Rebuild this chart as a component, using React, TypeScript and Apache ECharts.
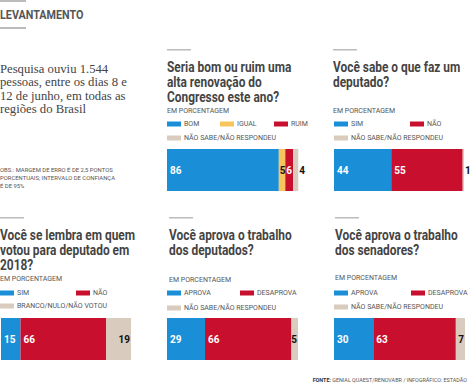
import React, { useEffect, useRef } from "react";
import * as echarts from "echarts";

const headerText = "LEVANTAMENTO";
const introText = "Pesquisa ouviu 1.544\npessoas, entre os dias 8 e\n12 de junho, em todas as\nregiões do Brasil";
const obsText = "OBS.: MARGEM DE ERRO É DE 2,5 PONTOS\nPORCENTUAIS; INTERVALO DE CONFIANÇA\nÉ DE 95%";
const unitText = "EM PORCENTAGEM";
const sourceBold = "FONTE:";
const sourceText = " GENIAL QUAEST/RENOVABR / INFOGRÁFICO: ESTADÃO";

const titles = [
  "Seria bom ou ruim uma\nalta renovação do\nCongresso este ano?",
  "Você sabe o que faz um\ndeputado?",
  "Você se lembra em quem\nvotou para deputado em\n2018?",
  "Você aprova o trabalho\ndos deputados?",
  "Você aprova o trabalho\ndos senadores?",
];

const cats1 = ["BOM", "IGUAL", "RUIM", "NÃO SABE/NÃO RESPONDEU"];
const vals1 = [86, 5, 6, 4];
const cats2 = ["SIM", "NÃO", "NÃO SABE/NÃO RESPONDEU"];
const vals2 = [44, 55, 1];
const cats3 = ["SIM", "NÃO", "BRANCO/NULO/NÃO VOTOU"];
const vals3 = [15, 66, 19];
const cats4 = ["APROVA", "DESAPROVA", "NÃO SABE/NÃO RESPONDEU"];
const vals4 = [29, 66, 5];
const cats5 = ["APROVA", "DESAPROVA", "NÃO SABE/NÃO RESPONDEU"];
const vals5 = [30, 63, 7];

const BLUE = "#1a8fd8";
const YELLOW = "#f8c55c";
const RED = "#c8102e";
const BEIGE = "#d9cbbd";

const colors1 = [BLUE, YELLOW, RED, BEIGE];
const colors3 = [BLUE, RED, BEIGE];

const panels = [
  { cats: cats1, vals: vals1, colors: colors1, x: 167, lineX: 167, lineY: 49, titleTop: 59.5, subTop: 107, leg: [[167, 124], [220, 124], [274, 124], [167, 138]], barLeft: 167, barTop: 149, barW: 130 },
  { cats: cats2, vals: vals2, colors: colors3, x: 333, lineX: 333, lineY: 49, titleTop: 59.5, subTop: 107, leg: [[334, 124], [410, 124], [334, 138]], barLeft: 334, barTop: 149, barW: 130 },
  { cats: cats3, vals: vals3, colors: colors3, x: 0, lineX: 0, lineY: 217, titleTop: 227.5, subTop: 275, leg: [[0, 293], [76, 293], [0, 306]], barLeft: 1, barTop: 318, barW: 130 },
  { cats: cats4, vals: vals4, colors: colors3, x: 169, lineX: 169, lineY: 217, titleTop: 227.5, subTop: 276, leg: [[167, 293], [240, 293], [167, 308]], barLeft: 167, barTop: 318, barW: 131 },
  { cats: cats5, vals: vals5, colors: colors3, x: 335, lineX: 335, lineY: 217, titleTop: 227.5, subTop: 274, leg: [[334, 293], [411, 293], [334, 307]], barLeft: 334, barTop: 318, barW: 131 },
];

const SANS = "Roboto, 'DejaVu Sans', sans-serif";

export default function App() {
  const ref = useRef<HTMLDivElement>(null);
  useEffect(() => {
    if (!ref.current) return;
    const chart = echarts.init(ref.current, undefined, { renderer: "svg" });

    const title: any[] = [
      {
        text: introText, left: 0, top: 62,
        textStyle: { fontFamily: "'Liberation Serif', 'DejaVu Serif', serif", fontWeight: "normal", fontSize: 12.7, color: "#444", lineHeight: 13.5 },
        padding: 0,
      },
      {
        text: obsText, left: 0, top: 166,
        textStyle: { fontFamily: SANS, fontWeight: "normal", fontSize: 5.9, color: "#555", lineHeight: 8 },
        padding: 0,
      },
      {
        text: `{b|${sourceBold}}{n|${sourceText}}`, right: 7, top: 377,
        textStyle: {
          rich: {
            b: { fontFamily: SANS, fontWeight: "bold", fontSize: 5.4, color: "#333" },
            n: { fontFamily: SANS, fontWeight: "normal", fontSize: 5.4, color: "#555" },
          },
        },
        padding: 0,
      },
    ];
    const legend: any[] = [];
    const grid: any[] = [];
    const xAxis: any[] = [];
    const yAxis: any[] = [];
    const series: any[] = [];
    const graphicEls: any[] = [
      { type: "rect", shape: { x: 0, y: 0, width: 26, height: 2 }, style: { fill: "#bbb" } },
      { type: "rect", shape: { x: 0, y: 27, width: 26, height: 2 }, style: { fill: "#bbb" } },
      {
        type: "text", x: 0, y: 8.5, scaleX: 0.83,
        style: { text: headerText, fontFamily: "Roboto", fontWeight: "bold", fontSize: 13, fill: "#555", verticalAlign: "top" },
      },
    ];

    panels.forEach((p, i) => {
      graphicEls.push({ type: "rect", shape: { x: p.lineX, y: p.lineY, width: 24, height: 1.5 }, style: { fill: "#bbb" } });
      graphicEls.push({
        type: "text", x: p.x, y: p.titleTop, scaleX: 0.85,
        style: { text: titles[i], fontFamily: "Roboto", fontWeight: "bold", fontSize: 14, lineHeight: 15, fill: "#444", verticalAlign: "top" },
      });
      title.push({
        text: unitText, left: p.x, top: p.subTop, padding: 0,
        textStyle: { fontFamily: SANS, fontWeight: "normal", fontSize: 7, color: "#555", lineHeight: 8 },
      });
      p.cats.forEach((c, j) => {
        legend.push({
          data: [c], left: p.leg[j][0], top: p.leg[j][1] - 4.5, padding: 0, itemGap: 0,
          itemWidth: 14, itemHeight: 5, icon: "rect", selectedMode: false,
          textStyle: { fontFamily: SANS, fontSize: 7, color: "#555", padding: [0, 0, 0, -2], lineHeight: 9 },
        });
      });
      grid.push({ left: p.barLeft, top: p.barTop, width: p.barW, height: 42, containLabel: false });
      xAxis.push({ type: "value", gridIndex: i, min: 0, max: 100, show: false });
      yAxis.push({ type: "category", gridIndex: i, data: [""], show: false });
      const n = p.vals.length;
      p.vals.forEach((v, j) => {
        const last = j === n - 1;
        const dark = p.colors[j] === YELLOW || p.colors[j] === BEIGE;
        let position = "insideLeft";
        let distance = 3;
        if (last) {
          position = v < 5 ? "right" : "insideRight";
          distance = 1;
        } else if (v < 10) {
          distance = 1;
        }
        series.push({
          type: "bar", name: p.cats[j], stack: "s" + i, xAxisIndex: i, yAxisIndex: i,
          data: [v], barWidth: "100%", clip: false,
          itemStyle: { color: p.colors[j] },
          label: {
            show: true, position, distance,
            color: dark || position === "right" ? "#111" : "#fff",
            fontFamily: SANS, fontWeight: "bold", fontSize: 10,
          },
        });
      });
    });

    chart.setOption({
      animation: false,
      backgroundColor: "#fff",
      title, legend, grid, xAxis, yAxis, series,
      graphic: graphicEls,
    });
    return () => chart.dispose();
  }, []);
  return <div ref={ref} style={{ position: "absolute", left: 0, top: 0, width: 474, height: 389 }} />;
}
